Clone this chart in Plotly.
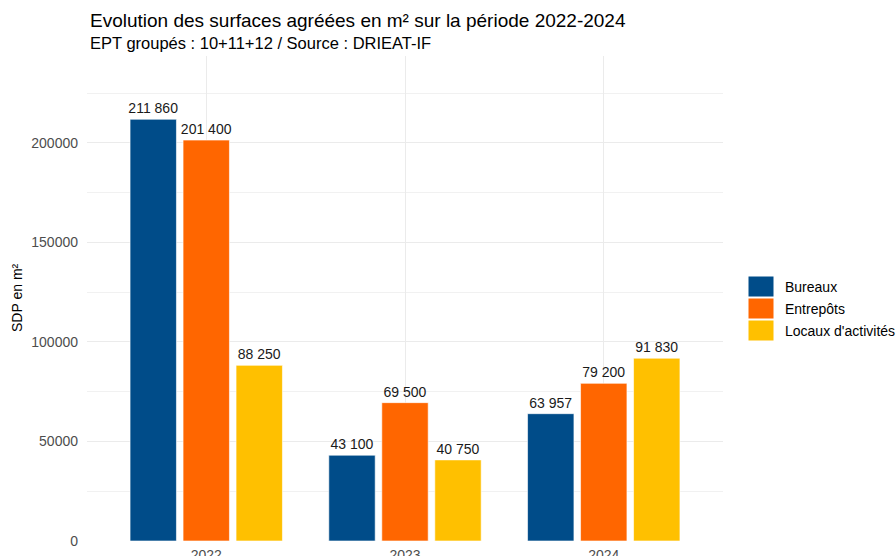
import plotly.graph_objects as go

years = ["2022", "2023", "2024"]
series_names = ["Bureaux", "Entrepôts", "Locaux d'activités"]
bureaux = [211860, 43100, 63957]
entrepots = [201400, 69500, 79200]
locaux = [88250, 40750, 91830]
colors = ["#004C89", "#FF6600", "#FFC000"]
title_text = "Evolution des surfaces agréées en m² sur la période 2022-2024"
subtitle_text = "EPT groupés : 10+11+12 / Source : DRIEAT-IF"
y_title = "SDP en m²"

W, H = 896, 556
ML, MR, MT, MB = 87, 173, 56, 15
PW, PH = W - ML - MR, H - MT - MB
FONT = "Liberation Sans, Arial, sans-serif"


def px_x(p):
    return (p - ML) / PW


def px_y(p):
    return (H - MB - p) / PH


def fmt(v):
    return f"{v:,}".replace(",", " ")


fig = go.Figure()
for name, vals, col in zip(series_names, [bureaux, entrepots, locaux], colors):
    fig.add_trace(go.Bar(
        x=years, y=vals, name=name,
        marker=dict(color=col, line=dict(color="white", width=0.6)),
        text=[fmt(v) for v in vals], textposition="outside",
        textfont=dict(family=FONT, size=14, color="#1a1a1a"),
        constraintext="none", cliponaxis=False, showlegend=False,
    ))

ymax = max(bureaux + entrepots + locaux) * 1.15

fig.update_layout(
    width=W, height=H,
    margin=dict(l=ML, r=MR, t=MT, b=MB, autoexpand=False),
    paper_bgcolor="white", plot_bgcolor="white",
    barmode="group", bargap=0.2, bargroupgap=0.125,
    font=dict(family=FONT, size=14, color="#4D4D4D"),
    xaxis=dict(range=[-0.6, 2.6], showgrid=True, gridcolor="#EBEBEB", gridwidth=1,
               zeroline=False, showline=False, ticks="", automargin=False,
               ticklabelstandoff=4,
               tickfont=dict(family=FONT, size=14, color="#4D4D4D")),
    yaxis=dict(range=[0, ymax], tick0=0, dtick=50000, showgrid=True,
               gridcolor="#EBEBEB", gridwidth=1, zeroline=False, showline=False,
               ticks="", automargin=False, ticklabelstandoff=8,
               tickformat="d",
               tickfont=dict(family=FONT, size=14, color="#4D4D4D"),
               minor=dict(dtick=25000, tick0=0, showgrid=True, gridcolor="#F1F1F1", gridwidth=0.6)),
)

annotations = [
    dict(text=title_text, xref="paper", yref="paper", x=px_x(88), y=px_y(20),
         xanchor="left", yanchor="middle", showarrow=False,
         font=dict(family=FONT, size=19, color="black")),
    dict(text=subtitle_text, xref="paper", yref="paper", x=px_x(88), y=px_y(43),
         xanchor="left", yanchor="middle", showarrow=False,
         font=dict(family=FONT, size=16.5, color="black")),
    dict(text=y_title, xref="paper", yref="paper", x=px_x(17), y=px_y(298),
         xanchor="center", yanchor="middle", textangle=-90, showarrow=False,
         font=dict(family=FONT, size=14, color="black")),
]

shapes = []
row_tops = [276, 298, 320]
for i, (name, col) in enumerate(zip(series_names, colors)):
    top = row_tops[i]
    shapes.append(dict(type="rect", xref="paper", yref="paper",
                       x0=px_x(748), x1=px_x(774), y0=px_y(top + 21), y1=px_y(top),
                       fillcolor=col, line=dict(color="white", width=1)))
    annotations.append(dict(text=name, xref="paper", yref="paper",
                            x=px_x(783), y=px_y(top + 10.5), xanchor="left", yanchor="middle",
                            showarrow=False, font=dict(family=FONT, size=14, color="black")))

fig.update_layout(annotations=annotations, shapes=shapes)
fig.write_html("out.html")
